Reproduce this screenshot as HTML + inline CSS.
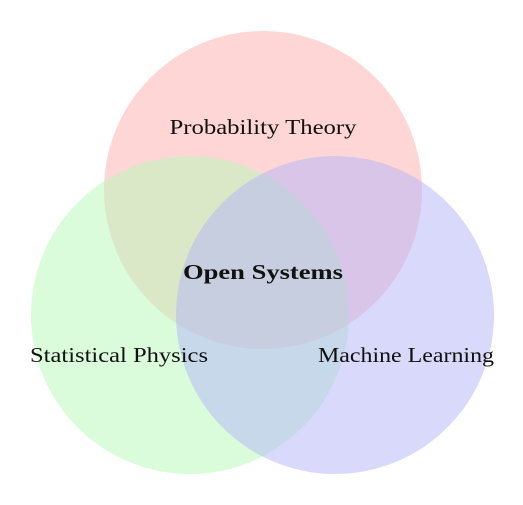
<!DOCTYPE html>
<html><head><meta charset="utf-8"><style>html,body{margin:0;padding:0;background:#fff}</style></head>
<body>
<svg width="523" height="500" viewBox="0 0 523 500" xmlns="http://www.w3.org/2000/svg">
<circle cx="263" cy="190" r="159" fill="#ffadad" fill-opacity="0.5"/>
<circle cx="190" cy="315" r="159" fill="#b7f9b7" fill-opacity="0.5"/>
<circle cx="335" cy="315" r="159" fill="#b3b3f9" fill-opacity="0.5"/>
<g font-family="Liberation Serif, serif" font-size="21" fill="#111" text-anchor="middle">
<text x="263" y="134" textLength="187" lengthAdjust="spacingAndGlyphs">Probability Theory</text>
<text x="263" y="279" font-weight="bold" textLength="160" lengthAdjust="spacingAndGlyphs">Open Systems</text>
<text x="119" y="362" textLength="178" lengthAdjust="spacingAndGlyphs">Statistical Physics</text>
<text x="406" y="362" textLength="176" lengthAdjust="spacingAndGlyphs">Machine Learning</text>
</g>
</svg>
</body></html>
